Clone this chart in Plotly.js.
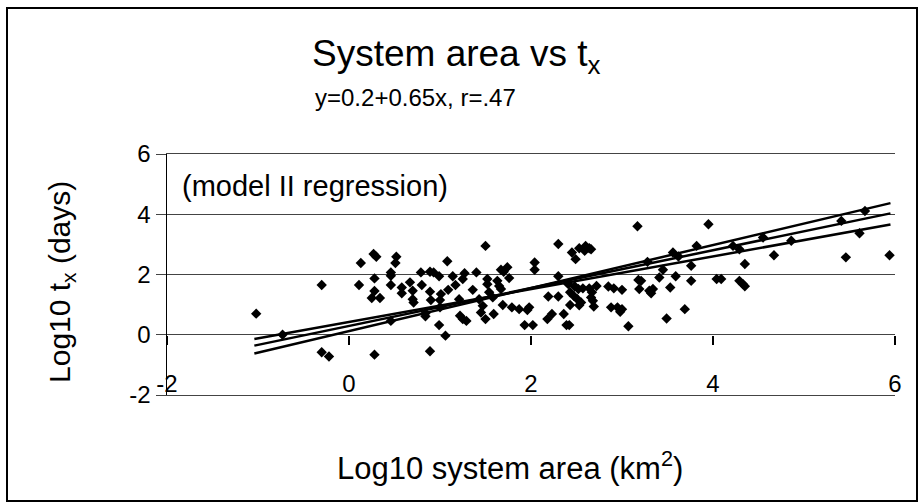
<!DOCTYPE html>
<html>
<head>
<meta charset="utf-8">
<script src="https://cdn.plot.ly/plotly-3.0.1.min.js"></script>
<style>
  html, body { margin: 0; padding: 0; background: #fff; }
  #wrap { position: relative; width: 924px; height: 504px; }
  #chart { width: 924px; height: 504px; }
  #frame { position: absolute; left: 6px; top: 7px; width: 908px; height: 491px; border: 2px solid #000; pointer-events: none; }
</style>
</head>
<body>
<div id="wrap">
  <div id="chart"></div>
  <div id="frame"></div>
</div>
<script>
// Observed points: log10 system area (x) vs log10 t_x (y)
const areaX = [
  -1.02, -0.73, -0.30, -0.30, -0.22, 0.13, 0.11, 0.27, 0.30, 0.51,
  0.46, 0.46, 0.28, 0.46, 0.28, 0.25, 0.34, 0.28, 0.46, 0.52,
  1.08, 0.79, 0.89, 0.93, 0.99, 1.14, 1.27, 1.25, 1.40, 0.58,
  0.58, 0.67, 0.80, 0.70, 0.70, 0.71, 0.89, 1.17, 1.36, 1.01,
  0.90, 1.00, 1.00, 1.21, 0.84, 0.84, 1.22, 1.25, 1.29, 0.99,
  1.06, 0.89, 1.50, 2.30, 2.04, 2.04, 1.67, 1.70, 1.74, 1.76,
  1.52, 1.52, 1.63, 1.65, 1.67, 1.54, 1.58, 1.43, 1.47, 1.45,
  1.50, 1.59, 1.69, 1.79, 1.87, 1.98, 1.96, 1.93, 2.02, 2.19,
  2.30, 2.18, 2.23, 3.17, 2.45, 2.53, 2.60, 2.64, 2.66, 2.59,
  2.49, 2.30, 2.41, 2.48, 2.43, 2.52, 2.57, 2.47, 2.51, 2.55,
  2.53, 2.64, 2.67, 2.66, 2.68, 2.69, 2.72, 2.85, 2.91, 3.00,
  2.43, 2.36, 2.39, 2.42, 2.88, 2.95, 3.00, 2.98, 3.07, 3.18,
  3.19, 3.95, 3.56, 3.62, 3.82, 3.28, 3.45, 3.76, 4.22, 4.29,
  4.35, 4.55, 4.67, 3.21, 3.41, 3.59, 3.76, 4.04, 4.09, 4.29,
  4.33, 4.35, 3.30, 3.34, 3.32, 3.53, 3.69, 3.49, 4.86, 5.41,
  5.67, 5.61, 5.46, 5.94, 1.09
];
const txY = [
  0.70, 0.00, 1.65, -0.58, -0.72, 2.38, 1.65, 2.68, 2.59, 2.38,
  2.07, 1.96, 1.87, 1.65, 1.45, 1.22, 1.22, -0.66, 0.46, 2.59,
  2.44, 2.07, 2.09, 2.07, 1.94, 1.94, 2.04, 1.85, 2.07, 1.57,
  1.38, 1.74, 1.65, 1.46, 1.18, 1.07, 1.43, 1.65, 1.49, 1.35,
  1.15, 1.15, 0.91, 1.18, 0.71, 0.61, 0.63, 0.52, 0.46, 0.32,
  -0.03, -0.55, 2.95, 3.01, 2.40, 2.16, 2.16, 2.09, 2.24, 1.88,
  1.85, 1.68, 1.79, 1.62, 1.52, 1.41, 1.24, 1.18, 0.96, 0.74,
  0.52, 0.69, 0.99, 0.91, 0.85, 0.91, 0.82, 0.32, 0.32, 1.27,
  1.27, 0.52, 0.69, 3.60, 2.73, 2.87, 2.95, 2.87, 2.84, 2.79,
  2.51, 1.94, 1.68, 1.61, 1.41, 1.52, 1.54, 1.29, 1.18, 1.07,
  0.98, 1.54, 1.41, 1.24, 1.13, 0.94, 1.62, 1.60, 1.54, 1.49,
  0.99, 0.69, 0.32, 0.32, 0.91, 0.91, 0.85, 0.76, 0.28, 1.82,
  1.52, 3.67, 2.73, 2.60, 2.95, 2.42, 2.16, 2.29, 2.95, 2.84,
  2.35, 3.23, 2.64, 1.79, 1.90, 1.94, 1.79, 1.85, 1.85, 1.79,
  1.68, 1.61, 1.46, 1.52, 1.38, 1.57, 0.85, 0.54, 3.12, 3.78,
  4.11, 3.37, 2.57, 2.64, 1.49
];

// Model II regression line and its two bounding lines (end points)
const lineX = [-1.04, 5.95];
const upperSlopeY = [-0.62, 4.37];
const fitY = [-0.36, 4.03];
const lowerSlopeY = [-0.14, 3.66];

const yTicks = [-2, 0, 2, 4, 6];
const xTicks = [-2, 0, 2, 4, 6];

const FONT = 'Arial, "Liberation Sans", Helvetica, sans-serif';

const traces = [
  { x: lineX, y: upperSlopeY, mode: 'lines', line: { color: '#000', width: 2.5 }, hoverinfo: 'skip', showlegend: false },
  { x: lineX, y: fitY, mode: 'lines', line: { color: '#000', width: 2.5 }, hoverinfo: 'skip', showlegend: false, xaxis: 'x2' },
  { x: lineX, y: lowerSlopeY, mode: 'lines', line: { color: '#000', width: 2.5 }, hoverinfo: 'skip', showlegend: false },
  { x: areaX, y: txY, mode: 'markers', marker: { symbol: 'diamond', size: 8, color: '#000' }, showlegend: false }
];

const layout = {
  width: 924, height: 504,
  margin: { l: 167, r: 29, t: 154, b: 109 },
  paper_bgcolor: '#fff', plot_bgcolor: '#fff',
  font: { family: FONT, color: '#000', size: 24 },
  showlegend: false,
  xaxis: {
    range: [-2, 6], tickvals: xTicks, ticktext: xTicks.map(String),
    showgrid: false, zeroline: false, showline: true, mirror: true, linecolor: '#444', linewidth: 1, ticks: '',
    ticklabelposition: 'inside', ticklabeloverflow: 'allow',
    tickfont: { size: 24, family: FONT, color: '#000' }
  },
  xaxis2: {
    range: [-2, 6], tickvals: xTicks, overlaying: 'x', anchor: 'free', position: 0.25,
    showgrid: false, zeroline: false, showline: false, showticklabels: false,
    ticks: 'outside', ticklen: 9, tickwidth: 1.5, tickcolor: '#000'
  },
  yaxis: {
    range: [-2, 6], tickvals: yTicks, ticktext: yTicks.map(String),
    showgrid: true, gridcolor: '#444', gridwidth: 1,
    zeroline: false, showline: true, linecolor: '#000', linewidth: 1.5,
    ticks: 'outside', ticklen: 10, tickcolor: '#444', tickwidth: 1,
    tickfont: { size: 24, family: FONT, color: '#000' }
  },
  annotations: [
    { text: 'System area vs t<sub>x</sub>', xref: 'paper', yref: 'paper', x: 0.1964, y: 1.407,
      xanchor: 'left', yanchor: 'middle', showarrow: false, font: { size: 37, family: FONT, color: '#000' } },
    { text: 'y=0.2+0.65x, r=.47', xref: 'paper', yref: 'paper', x: 0.2005, y: 1.2365,
      xanchor: 'left', yanchor: 'middle', showarrow: false, font: { size: 24, family: FONT, color: '#000' } },
    { text: '(model II regression)', xref: 'paper', yref: 'paper', x: 0.0179, y: 0.867,
      xanchor: 'left', yanchor: 'middle', showarrow: false, font: { size: 29, family: FONT, color: '#000' } },
    { text: 'Log10 system area (km<sup>2</sup>)', xref: 'paper', yref: 'paper', x: 0.2308, y: -0.2946,
      xanchor: 'left', yanchor: 'middle', showarrow: false, font: { size: 31, family: FONT, color: '#000' } },
    { text: 'Log10 t<sub>x</sub> (days)', xref: 'paper', yref: 'paper', x: -0.1442, y: 0.469,
      xanchor: 'center', yanchor: 'middle', textangle: -90, showarrow: false, font: { size: 30, family: FONT, color: '#000' } }
  ]
};

Plotly.newPlot('chart', traces, layout, { displayModeBar: false, staticPlot: true });
</script>
</body>
</html>
